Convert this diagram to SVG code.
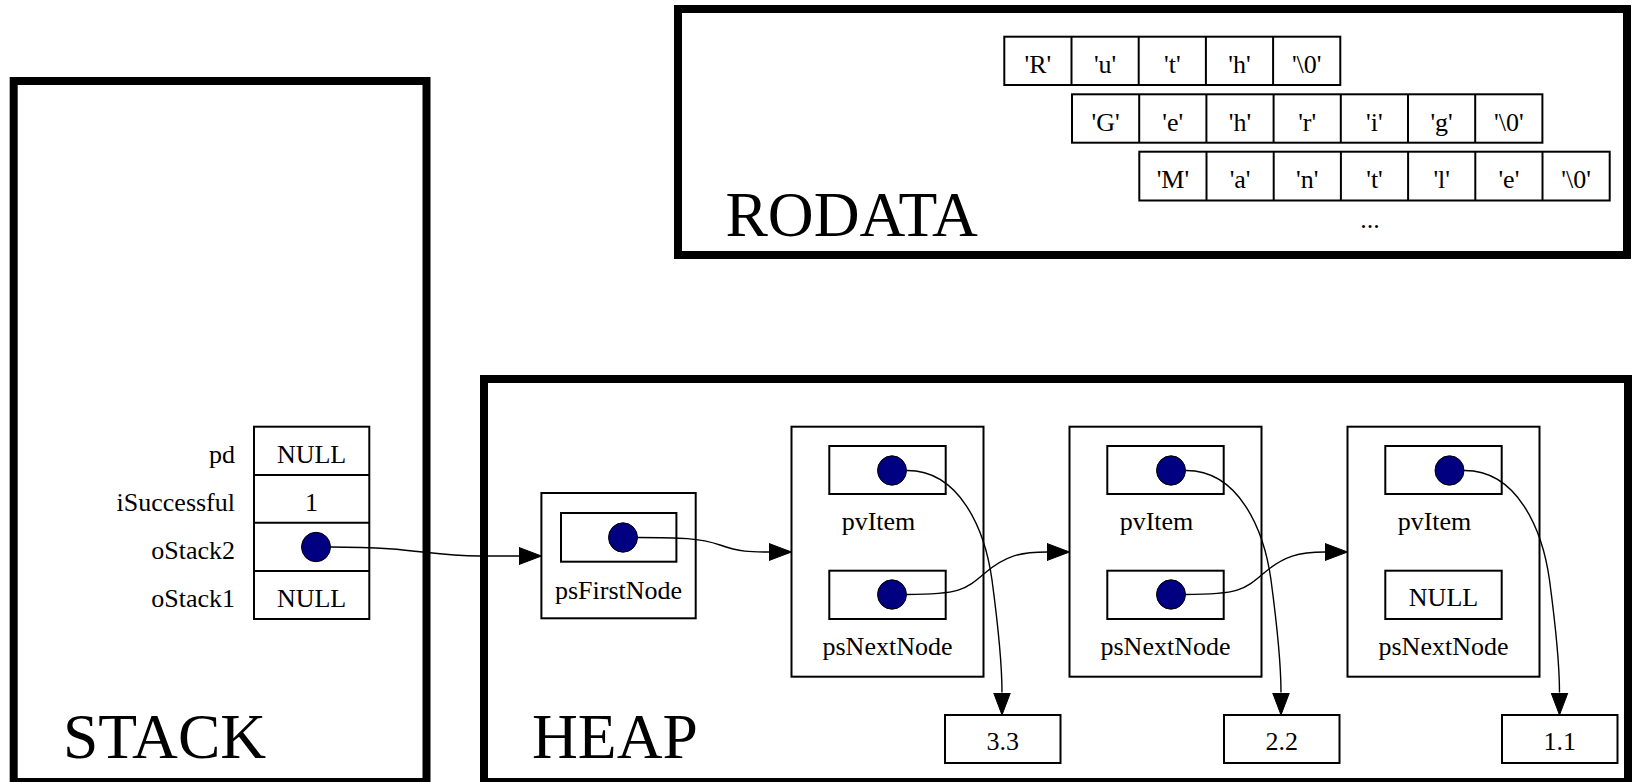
<svg xmlns="http://www.w3.org/2000/svg" width="1632" height="782" viewBox="0 0 1632 782">
<style>
text{font-family:"Liberation Serif","Times New Roman",serif;font-size:26px;fill:#000}
.big{font-size:63.5px}
.c{text-anchor:middle}
.e{text-anchor:end}
.cl{fill:none;stroke:#000;stroke-width:8}
.bx{fill:none;stroke:#000;stroke-width:2}
.dot{fill:#000080;stroke:#000;stroke-width:1}
.ed{fill:none;stroke:#000;stroke-width:1.4}
</style>
<defs>
<marker id="ah" markerUnits="userSpaceOnUse" markerWidth="23" markerHeight="18" viewBox="0 0 23 18" refX="0" refY="9" orient="auto">
<path d="M0,0.5 L22.5,9 L0,17.5 z" fill="#000" stroke="#000" stroke-width="1"/>
</marker>
</defs>
<rect width="1632" height="782" fill="#fff"/>

<g id="stack">
<rect class="cl" x="13.7" y="81" width="412.8" height="701"/>
<text class="big" x="63" y="758">STACK</text>
</g>
<g id="heap">
<rect class="cl" x="484" y="379" width="1144" height="403"/>
<text class="big" x="532" y="758">HEAP</text>
</g>
<g id="rodata">
<rect class="cl" x="678" y="9" width="949" height="246"/>
<text class="big" x="725.5" y="236">RODATA</text>
</g>

<g id="stackvars">
<rect class="bx" x="254" y="426.7" width="115.3" height="192.3"/>
<line class="bx" x1="254" y1="475" x2="369.3" y2="475"/>
<line class="bx" x1="254" y1="522.7" x2="369.3" y2="522.7"/>
<line class="bx" x1="254" y1="571" x2="369.3" y2="571"/>
<text class="e" x="235" y="463">pd</text>
<text class="e" x="235" y="511">iSuccessful</text>
<text class="e" x="235" y="559">oStack2</text>
<text class="e" x="235" y="607">oStack1</text>
<text class="c" x="311.6" y="463">NULL</text>
<text class="c" x="311.6" y="511">1</text>
<ellipse class="dot" cx="316" cy="547" rx="14.5" ry="14.7"/>
<text class="c" x="311.6" y="607">NULL</text>
</g>

<g id="str1">
<rect class="bx" x="1004.3" y="36.7" width="336" height="48.3"/>
<line class="bx" x1="1071.5" y1="36.7" x2="1071.5" y2="85"/>
<line class="bx" x1="1138.7" y1="36.7" x2="1138.7" y2="85"/>
<line class="bx" x1="1205.9" y1="36.7" x2="1205.9" y2="85"/>
<line class="bx" x1="1273.1" y1="36.7" x2="1273.1" y2="85"/>
<text class="c" x="1037.9" y="73">'R'</text>
<text class="c" x="1105.1" y="73">'u'</text>
<text class="c" x="1172.3" y="73">'t'</text>
<text class="c" x="1239.5" y="73">'h'</text>
<text class="c" x="1306.7" y="73">'\0'</text>
</g>
<g id="str2">
<rect class="bx" x="1072" y="94.3" width="470.4" height="48.4"/>
<line class="bx" x1="1139.2" y1="94.3" x2="1139.2" y2="142.7"/>
<line class="bx" x1="1206.4" y1="94.3" x2="1206.4" y2="142.7"/>
<line class="bx" x1="1273.6" y1="94.3" x2="1273.6" y2="142.7"/>
<line class="bx" x1="1340.8" y1="94.3" x2="1340.8" y2="142.7"/>
<line class="bx" x1="1408" y1="94.3" x2="1408" y2="142.7"/>
<line class="bx" x1="1475.2" y1="94.3" x2="1475.2" y2="142.7"/>
<text class="c" x="1105.6" y="131">'G'</text>
<text class="c" x="1172.8" y="131">'e'</text>
<text class="c" x="1240" y="131">'h'</text>
<text class="c" x="1307.2" y="131">'r'</text>
<text class="c" x="1374.4" y="131">'i'</text>
<text class="c" x="1441.6" y="131">'g'</text>
<text class="c" x="1508.8" y="131">'\0'</text>
</g>
<g id="str3">
<rect class="bx" x="1139.3" y="151.7" width="470.4" height="48.8"/>
<line class="bx" x1="1206.5" y1="151.7" x2="1206.5" y2="200.5"/>
<line class="bx" x1="1273.7" y1="151.7" x2="1273.7" y2="200.5"/>
<line class="bx" x1="1340.9" y1="151.7" x2="1340.9" y2="200.5"/>
<line class="bx" x1="1408.1" y1="151.7" x2="1408.1" y2="200.5"/>
<line class="bx" x1="1475.3" y1="151.7" x2="1475.3" y2="200.5"/>
<line class="bx" x1="1542.5" y1="151.7" x2="1542.5" y2="200.5"/>
<text class="c" x="1172.9" y="188">'M'</text>
<text class="c" x="1240.1" y="188">'a'</text>
<text class="c" x="1307.3" y="188">'n'</text>
<text class="c" x="1374.5" y="188">'t'</text>
<text class="c" x="1441.7" y="188">'l'</text>
<text class="c" x="1508.9" y="188">'e'</text>
<text class="c" x="1576.1" y="188">'\0'</text>
</g>
<g id="ellipsis">
<text class="c" x="1370" y="228">...</text>
</g>

<g id="list">
<rect class="bx" x="541.4" y="493" width="154.3" height="125.3"/>
<rect class="bx" x="561" y="513" width="115.4" height="48.7"/>
<ellipse class="dot" cx="623" cy="537.5" rx="14.5" ry="14.7"/>
<text class="c" x="618.5" y="599">psFirstNode</text>
</g>

<g id="node1">
<rect class="bx" x="791.5" y="426.7" width="192" height="250"/>
<rect class="bx" x="829.3" y="446" width="116.4" height="48"/>
<ellipse class="dot" cx="892" cy="470.5" rx="14.5" ry="14.7"/>
<text class="c" x="878.5" y="530">pvItem</text>
<rect class="bx" x="829.3" y="570.7" width="116.4" height="48.3"/>
<ellipse class="dot" cx="892" cy="594.5" rx="14.5" ry="14.7"/>
<text class="c" x="887.5" y="655">psNextNode</text>
</g>
<g id="node2">
<rect class="bx" x="1069.5" y="426.7" width="192" height="250"/>
<rect class="bx" x="1107.3" y="446" width="116.4" height="48"/>
<ellipse class="dot" cx="1171" cy="470.5" rx="14.5" ry="14.7"/>
<text class="c" x="1156.5" y="530">pvItem</text>
<rect class="bx" x="1107.3" y="570.7" width="116.4" height="48.3"/>
<ellipse class="dot" cx="1171" cy="594.5" rx="14.5" ry="14.7"/>
<text class="c" x="1165.5" y="655">psNextNode</text>
</g>
<g id="node3">
<rect class="bx" x="1347.5" y="426.7" width="192" height="250"/>
<rect class="bx" x="1385.3" y="446" width="116.4" height="48"/>
<ellipse class="dot" cx="1449.5" cy="470.5" rx="14.5" ry="14.7"/>
<text class="c" x="1434.5" y="530">pvItem</text>
<rect class="bx" x="1385.3" y="570.7" width="116.4" height="48.3"/>
<text class="c" x="1443.5" y="606">NULL</text>
<text class="c" x="1443.5" y="655">psNextNode</text>
</g>

<g id="val33">
<rect class="bx" x="945" y="715" width="115.5" height="48"/>
<text class="c" x="1002.7" y="750">3.3</text>
</g>
<g id="val22">
<rect class="bx" x="1224" y="715" width="115.5" height="48"/>
<text class="c" x="1281.7" y="750">2.2</text>
</g>
<g id="val11">
<rect class="bx" x="1502" y="715" width="115.5" height="48"/>
<text class="c" x="1559.7" y="750">1.1</text>
</g>

<g id="connectors">
<path class="ed" marker-end="url(#ah)" d="M330.5,547 C420,547 425,556 480,556 L519,556"/>
<path class="ed" marker-end="url(#ah)" d="M637.5,537.5 C680,537.5 700,538 720,545 C740,552 750,552 769,552"/>
<path class="ed" marker-end="url(#ah)" d="M906.5,594.5 C960,594.5 965,590 985,573 C1005,556 1020,552 1047,552"/>
<path class="ed" marker-end="url(#ah)" d="M1185.5,594.5 C1239,594.5 1244,590 1264,573 C1284,556 1299,552 1325,552"/>
<path class="ed" marker-end="url(#ah)" d="M906.5,470.5 C960,470 985,530 992,580 C998,625 1002,660 1002,692.5"/>
<path class="ed" marker-end="url(#ah)" d="M1185.5,470.5 C1239,470 1264,530 1271,580 C1277,625 1281,660 1281,692.5"/>
<path class="ed" marker-end="url(#ah)" d="M1464,470.5 C1517.5,470 1542.5,530 1549.5,580 C1555.5,625 1559.5,660 1559.5,692.5"/>
</g>
</svg>
